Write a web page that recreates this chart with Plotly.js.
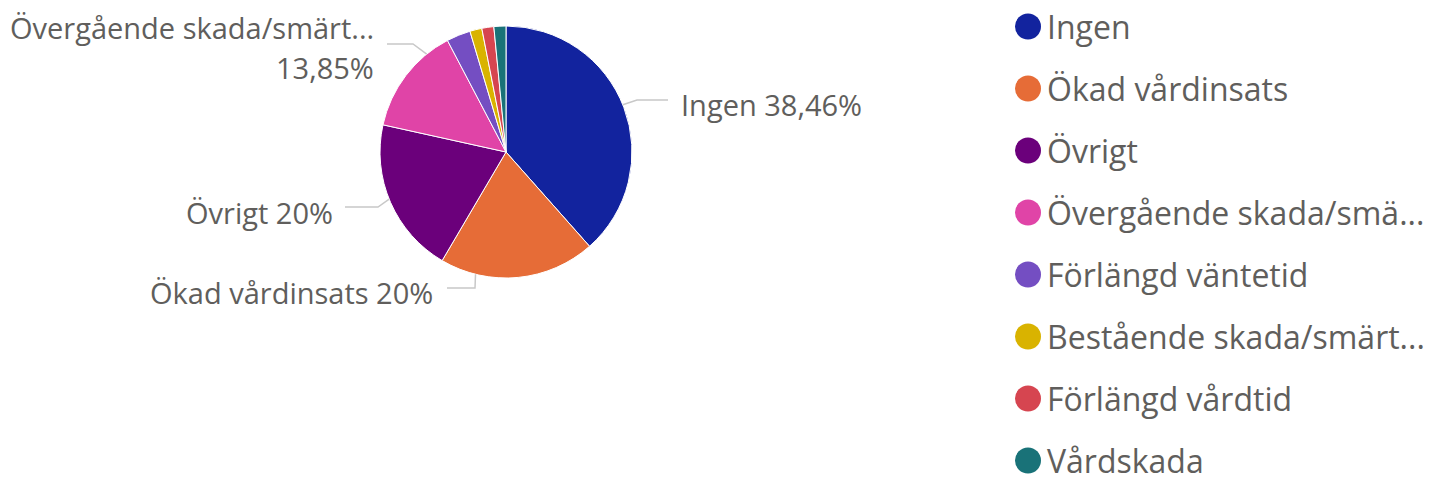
<!DOCTYPE html>
<html><head><meta charset="utf-8">
<script src="https://cdn.plot.ly/plotly-3.0.1.min.js"></script>
<style>html,body{margin:0;padding:0;background:#fff;overflow:hidden}</style>
</head><body><div id="chart" style="width:1429px;height:482px"></div>
<script>
// ---- data ----
const categories = ["Ingen", "Ökad vårdinsats", "Övrigt", "Övergående skada/smärt...", "Förlängd väntetid", "Bestående skada/smärt...", "Förlängd vårdtid", "Vårdskada"];
const counts = [25, 13, 13, 9, 2, 1, 1, 1];
const legendLabels = ["Ingen", "Ökad vårdinsats", "Övrigt", "Övergående skada/smä...", "Förlängd väntetid", "Bestående skada/smärt...", "Förlängd vårdtid", "Vårdskada"];
const colors = ["#12239E", "#E66C37", "#6B007B", "#E044A7", "#744EC2", "#D9B300", "#D64550", "#197278"];

// ---- layout config (pixels) ----
const W = 1429, H = 482;
const CX = 506, CY = 152, R = 126;
const labelFont = {family: "Open Sans, sans-serif", size: 29, color: "#605E5C"};
const legendFont = {family: "Open Sans, sans-serif", size: 32, color: "#605E5C"};
const legendX = 1028, legendTextX = 1045, legendY0 = 26.5, legendStep = 62, dotR = 13;
// data-label placement: slice index, leader start angle (deg clockwise from top), elbow, end, text anchor
const labelLayout = [
  {i: 0, ang: 68, elbow: [637, 100], end: [668, 100], tx: 679, ty: [104], side: "left", twoLine: false},
  {i: 1, ang: 194, elbow: [475, 288], end: [447, 288], tx: 435, ty: [292], side: "right", twoLine: false},
  {i: 2, ang: 248, elbow: [378, 207], end: [345, 207], tx: 335, ty: [212], side: "right", twoLine: false},
  {i: 3, ang: 321, elbow: [413, 44], end: [387, 44], tx: 376, ty: [27, 68], side: "right", twoLine: true}
];

const px = x => x / W, py = y => 1 - y / H;
const total = counts.reduce((a, b) => a + b, 0);
const pctText = v => {
  const p = Math.round(v / total * 10000) / 100;
  return String(p).replace(".", ",") + "%";
};

const trace = {
  type: "pie",
  labels: categories,
  values: counts,
  sort: false,
  direction: "clockwise",
  rotation: 0,
  marker: {colors: colors, line: {color: "#ffffff", width: 1}},
  textinfo: "none",
  hoverinfo: "label+percent",
  showlegend: false,
  domain: {x: [px(CX - R), px(CX + R)], y: [py(CY + R), py(CY - R)]}
};

const shapes = [], annotations = [];
labelLayout.forEach(L => {
  const a = L.ang * Math.PI / 180;
  const sx = CX + R * Math.sin(a), sy = CY - R * Math.cos(a);
  shapes.push({
    type: "path", xref: "paper", yref: "paper",
    path: `M ${px(sx)} ${py(sy)} L ${px(L.elbow[0])} ${py(L.elbow[1])} L ${px(L.end[0])} ${py(L.end[1])}`,
    line: {color: "#C8C8C8", width: 1.5}
  });
  const name = categories[L.i], pct = pctText(counts[L.i]);
  const texts = L.twoLine ? [name, pct] : [name + " " + pct];
  texts.forEach((t, k) => annotations.push({
    xref: "paper", yref: "paper", x: px(L.tx), y: py(L.ty[k]),
    xanchor: L.side, yanchor: "middle", showarrow: false, text: t, font: labelFont
  }));
});

legendLabels.forEach((lab, k) => {
  const y = legendY0 + k * legendStep;
  shapes.push({
    type: "circle", xref: "paper", yref: "paper",
    x0: px(legendX - dotR), x1: px(legendX + dotR), y0: py(y + dotR), y1: py(y - dotR),
    fillcolor: colors[k], line: {width: 0}
  });
  annotations.push({
    xref: "paper", yref: "paper", x: px(legendTextX), y: py(y),
    xanchor: "left", yanchor: "middle", showarrow: false, text: lab, font: legendFont
  });
});

const layout = {
  width: W, height: H,
  margin: {l: 0, r: 0, t: 0, b: 0},
  paper_bgcolor: "#ffffff", plot_bgcolor: "#ffffff",
  showlegend: false,
  shapes: shapes, annotations: annotations
};
Plotly.newPlot("chart", [trace], layout, {displayModeBar: false, staticPlot: true});
</script>
</body></html>
